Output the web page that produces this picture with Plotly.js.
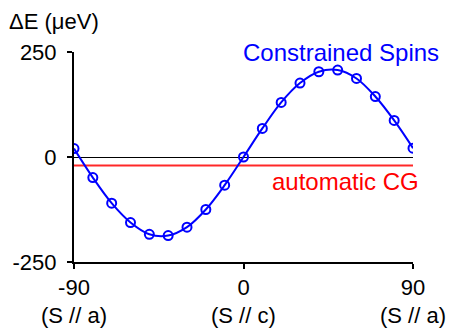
<!DOCTYPE html>
<html><head><meta charset="utf-8">
<script src="https://cdn.plot.ly/plotly-3.0.1.min.js"></script>
<style>html,body{margin:0;padding:0;background:#fff;}#chart{width:450px;height:328px;}</style>
</head><body><div id="chart"></div>
<script>
const angles = [-90,-80,-70,-60,-50,-40,-30,-20,-10,0,10,20,30,40,50,60,70,80,90];
const constrainedSpins = [20,-49,-110,-156,-184,-187,-167,-125,-67,0,68,130,176,203,207,187,144,87,21];
const cgX = [-90, 90];
const cgY = [-20, -20];
const xTickVals = [-90, 0, 90];
const xTickText = ['-90', '0', '90'];
const xSubLabels = ['(S // a)', '(S // c)', '(S // a)'];
const yTickVals = [-250, 0, 250];
const yTickText = ['-250', '0', '250'];

const FONT = 'Liberation Sans, Arial, sans-serif';
const traces = [
  {x: cgX, y: cgY, mode: 'lines', line: {color: 'rgb(255,40,40)', width: 2}, hoverinfo: 'skip'},
  {x: angles, y: constrainedSpins, mode: 'lines+markers',
   line: {color: '#0000ff', width: 2, shape: 'spline', smoothing: 1},
   marker: {symbol: 'circle-open', size: 9, color: '#0000ff', line: {width: 2, color: '#0000ff'}}}
];
const annotations = xSubLabels.map((t, i) => ({
  x: xTickVals[i], y: 0, xref: 'x', yref: 'paper', yshift: -53,
  text: t, showarrow: false, xanchor: 'center', yanchor: 'middle',
  font: {family: FONT, size: 22, color: '#000'}
}));
annotations.push({x: 0, y: 1, xref: 'paper', yref: 'paper', xshift: -67, yshift: 31,
  text: 'ΔE (μeV)', showarrow: false, xanchor: 'left', yanchor: 'middle',
  font: {family: FONT, size: 22, color: '#000'}});
annotations.push({x: 52, y: 250, xref: 'x', yref: 'y', yshift: 0,
  text: 'Constrained Spins', showarrow: false, xanchor: 'center', yanchor: 'middle',
  font: {family: FONT, size: 24, color: '#0000ff'}});
annotations.push({x: 54, y: -20, xref: 'x', yref: 'y', yshift: -16,
  text: 'automatic CG', showarrow: false, xanchor: 'center', yanchor: 'middle',
  font: {family: FONT, size: 24, color: '#ff0000'}});

const layout = {
  width: 450, height: 328,
  margin: {l: 74, r: 37, t: 52, b: 66},
  paper_bgcolor: '#fff', plot_bgcolor: '#fff',
  showlegend: false,
  font: {family: FONT, size: 22, color: '#000'},
  xaxis: {range: [-90, 90], tickvals: xTickVals, ticktext: xTickText,
    showgrid: false, zeroline: false, showline: true, linecolor: '#000', linewidth: 2,
    ticks: 'outside', ticklen: 5, tickwidth: 2, tickcolor: '#000',
    tickfont: {family: FONT, size: 22, color: '#000'}},
  yaxis: {range: [-250, 250], tickvals: yTickVals, ticktext: yTickText,
    showgrid: false, zeroline: true, zerolinecolor: '#000', zerolinewidth: 1,
    showline: true, linecolor: '#000', linewidth: 2,
    ticks: 'outside', ticklen: 5, tickwidth: 2, tickcolor: '#000', ticklabelstandoff: 6,
    tickfont: {family: FONT, size: 22, color: '#000'}},
  annotations: annotations
};
Plotly.newPlot('chart', traces, layout, {displayModeBar: false, staticPlot: true});
</script></body></html>
